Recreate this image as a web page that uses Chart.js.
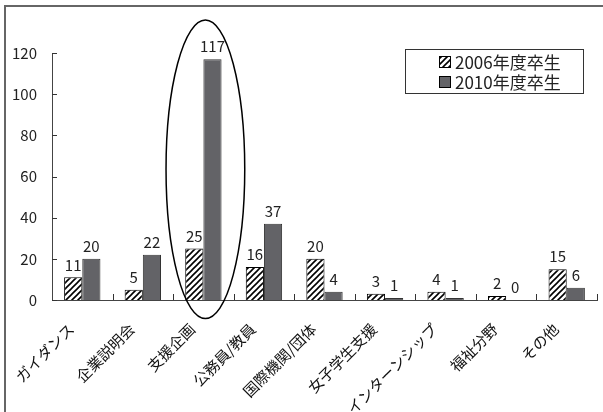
<!DOCTYPE html>
<html>
<head>
<meta charset="utf-8">
<script src="https://cdn.jsdelivr.net/npm/chart.js@4.4.0/dist/chart.umd.min.js"></script>
<style>
  html, body { margin: 0; padding: 0; background: #fff; }
  #wrap { width: 603px; height: 412px; position: relative; }
</style>
</head>
<body>
<div id="wrap"><canvas id="chart" width="603" height="412"></canvas></div>
<script>
const categories = ['ガイダンス', '企業説明会', '支援企画', '公務員/教員', '国際機関/団体', '女子学生支援', 'インターンシップ', '福祉分野', 'その他'];
const seriesLabels = ['2006年度卒生', '2010年度卒生'];
const grad2006 = [11, 5, 25, 16, 20, 3, 4, 2, 15];
const grad2010 = [20, 22, 117, 37, 4, 1, 1, 0, 6];
const yTicks = [0, 20, 40, 60, 80, 100, 120];

const FONT = '"Noto Sans CJK JP", "Noto Sans", sans-serif';
const DARK = '#636367';

function makeHatch(size) {
  const c = document.createElement('canvas');
  c.width = size; c.height = size;
  const g = c.getContext('2d');
  g.fillStyle = '#fff';
  g.fillRect(0, 0, size, size);
  g.strokeStyle = '#000';
  g.lineWidth = 1.6;
  g.beginPath();
  g.moveTo(-1, size + 1); g.lineTo(size + 1, -1);
  g.moveTo(-1, 1); g.lineTo(1, -1);
  g.moveTo(size - 1, size + 1); g.lineTo(size + 1, size - 1);
  g.stroke();
  return g.createPattern(c, 'repeat');
}

document.addEventListener('DOMContentLoaded', () => {
  const ctx = document.getElementById('chart').getContext('2d');
  const hatch = makeHatch(6);

  const extras = {
    id: 'extras',
    beforeDraw(chart) {
      const c = chart.ctx;
      c.save();
      c.strokeStyle = '#666';
      c.lineWidth = 2;
      c.beginPath();
      c.moveTo(5, 412); c.lineTo(5, 6); c.lineTo(603, 6);
      c.stroke();
      c.restore();
    },
    afterDatasetsDraw(chart) {
      const c = chart.ctx;
      const area = chart.chartArea;
      const yScale = chart.scales.y;
      const xScale = chart.scales.x;
      c.save();
      // inside tick marks
      c.strokeStyle = '#333';
      c.lineWidth = 1;
      c.beginPath();
      yTicks.forEach(v => {
        const py = Math.round(yScale.getPixelForValue(v)) + 0.5;
        c.moveTo(area.left, py); c.lineTo(area.left + 5, py);
      });
      const step = (area.right - area.left) / categories.length;
      for (let k = 1; k <= categories.length; k++) {
        const px = Math.round(area.left + k * step) + 0.5;
        c.moveTo(px, area.bottom); c.lineTo(px, area.bottom - 6);
      }
      c.stroke();

      // value labels
      c.fillStyle = '#222';
      c.font = '15px ' + FONT;
      c.textAlign = 'center';
      c.textBaseline = 'bottom';
      chart.data.datasets.forEach((ds, di) => {
        const meta = chart.getDatasetMeta(di);
        meta.data.forEach((bar, i) => {
          c.fillText(String(ds.data[i]), bar.x, bar.y - 5);
        });
      });

      // ellipse around 支援企画
      const cx = xScale.getPixelForValue(2) + 2;
      const top = yScale.getPixelForValue(136);
      const bottom = yScale.getPixelForValue(-9);
      c.strokeStyle = '#000';
      c.lineWidth = 1.5;
      c.beginPath();
      c.ellipse(cx, (top + bottom) / 2, step * 0.65, (bottom - top) / 2, 0, 0, Math.PI * 2);
      c.stroke();

      // legend
      const lx = 405.5, ly = 49.5, lw = 178, lh = 44;
      c.fillStyle = '#fff';
      c.fillRect(lx, ly, lw, lh);
      c.strokeStyle = '#333';
      c.lineWidth = 1;
      c.strokeRect(lx, ly, lw, lh);
      c.font = '17px ' + FONT;
      c.textAlign = 'left';
      c.textBaseline = 'middle';
      chart.data.datasets.forEach((ds, di) => {
        const my = 62 + di * 20;
        c.fillStyle = ds.backgroundColor;
        c.fillRect(439.5, my - 5.5, 11, 11);
        c.strokeStyle = '#000';
        c.strokeRect(439.5, my - 5.5, 11, 11);
        c.fillStyle = '#222';
        c.fillText(ds.label, 455, my + 1);
      });
      c.restore();
    }
  };

  new Chart(ctx, {
    type: 'bar',
    data: {
      labels: categories,
      datasets: [
        {
          label: seriesLabels[0],
          data: grad2006,
          backgroundColor: hatch,
          borderColor: '#000',
          borderWidth: 1,
          categoryPercentage: 0.6,
          barPercentage: 1.0
        },
        {
          label: seriesLabels[1],
          data: grad2010,
          backgroundColor: DARK,
          borderColor: '#333',
          borderWidth: 1,
          categoryPercentage: 0.6,
          barPercentage: 1.0
        }
      ]
    },
    options: {
      responsive: false,
      animation: false,
      layout: { padding: { top: 53, right: 6, left: 0, bottom: 0 } },
      plugins: {
        legend: { display: false },
        tooltip: { enabled: false }
      },
      scales: {
        x: {
          grid: { display: false, drawTicks: false },
          border: { display: true, color: '#444', width: 1 },
          ticks: {
            autoSkip: false,
            minRotation: 45,
            maxRotation: 45,
            padding: 20,
            labelOffset: -11,
            color: '#111',
            font: { family: FONT, size: 15 }
          },
          afterFit(scale) { scale.height = 112; }
        },
        y: {
          min: 0,
          max: 120,
          afterBuildTicks(scale) { scale.ticks = yTicks.map(v => ({ value: v })); },
          grid: { display: false, drawTicks: false },
          border: { display: true, color: '#444', width: 1 },
          ticks: {
            padding: 15,
            color: '#222',
            font: { family: FONT, size: 15 }
          },
          afterFit(scale) { scale.width = 52; }
        }
      }
    },
    plugins: [extras]
  });
});
</script>
</body>
</html>
